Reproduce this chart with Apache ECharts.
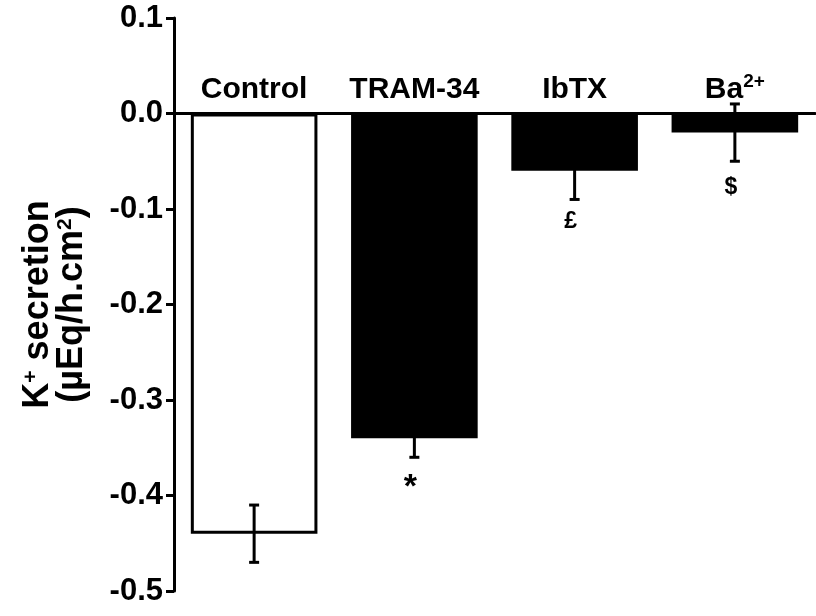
<!DOCTYPE html>
<html>
<head>
<meta charset="utf-8">
<script src="https://cdn.jsdelivr.net/npm/echarts@6/dist/echarts.min.js"></script>
<style>
  html, body { margin: 0; padding: 0; background: #fff; }
  #chart { width: 816px; height: 616px; }
</style>
</head>
<body>
<div id="chart"></div>
<script>
// data
const categories = ['Control', 'TRAM-34', 'IbTX', 'Ba2+'];
const means = [-0.44, -0.34, -0.06, -0.02];
const errors = [0.03, 0.02, 0.03, 0.03];
const marks = ['', '*', '£', '$'];
const fills = ['#ffffff', '#000000', '#000000', '#000000'];
const yMin = -0.5, yMax = 0.1, yStep = 0.1;

const font = '"Liberation Sans", Arial, sans-serif';

const chart = echarts.init(document.getElementById('chart'));

const errData = means.map((m, i) => [i, m - errors[i], m + errors[i]]);

// category names sit just above the zero line
function catLabel(c) {
  return c === 'Ba2+' ? '{b|Ba}{s|2+}' : '{b|' + c + '}';
}
const catRich = {
  b: { fontFamily: font, fontWeight: 'bold', fontSize: 30, fill: '#000', color: '#000', lineHeight: 34 },
  s: { fontFamily: font, fontWeight: 'bold', fontSize: 19, fill: '#000', color: '#000', lineHeight: 19, padding: [0, 0, 15, 0] }
};

chart.setOption({
  animation: false,
  grid: { left: 174, right: 1, top: 18, bottom: 25, outerBoundsMode: 'none' },
  xAxis: {
    type: 'category',
    data: categories,
    axisLine: { onZero: true, lineStyle: { color: '#000', width: 3 } },
    axisTick: { show: false },
    axisLabel: { show: false }
  },
  yAxis: {
    type: 'value',
    min: yMin,
    max: yMax,
    interval: yStep,
    splitLine: { show: false },
    axisLine: { show: true, lineStyle: { color: '#000', width: 3 } },
    axisTick: { show: true, length: 8, lineStyle: { color: '#000', width: 3 } },
    axisLabel: {
      margin: 11,
      color: '#000',
      fontFamily: font,
      fontWeight: 'bold',
      fontSize: 31,
      formatter: v => v.toFixed(1)
    },
    name: '{n|K}{s|+}{n| secretion}\n{n|(µEq/h.cm}{s|2}{n|)}',
    nameLocation: 'middle',
    nameRotate: 90,
    nameGap: 85,
    nameTextStyle: {
      rich: {
        n: { fontFamily: font, fontWeight: 'bold', fontSize: 36, color: '#000', lineHeight: 34 },
        s: { fontFamily: font, fontWeight: 'bold', fontSize: 21, color: '#000', lineHeight: 21, padding: [0, 0, 13, 0] }
      }
    }
  },
  series: [
    {
      type: 'bar',
      barCategoryGap: '21%',
      data: means.map((m, i) => ({
        value: m,
        itemStyle: { color: fills[i], borderColor: '#000', borderWidth: 3 }
      }))
    },
    {
      type: 'custom',
      data: errData,
      z: 5,
      renderItem: (params, api) => {
        const i = api.value(0);
        const lo = api.coord([i, api.value(1)]);
        const hi = api.coord([i, api.value(2)]);
        const cap = 5;
        const st = { stroke: '#000', lineWidth: 3 };
        const kids = [
          { type: 'line', shape: { x1: lo[0], y1: lo[1], x2: hi[0], y2: hi[1] }, style: st },
          { type: 'line', shape: { x1: lo[0] - cap, y1: lo[1], x2: lo[0] + cap, y2: lo[1] }, style: st },
          { type: 'line', shape: { x1: hi[0] - cap, y1: hi[1], x2: hi[0] + cap, y2: hi[1] }, style: st }
        ];
        const m = marks[params.dataIndex];
        if (m) {
          const star = m === '*';
          kids.push({
            type: 'text',
            style: {
              x: lo[0] - 4, y: lo[1] + (star ? 30 : (m === '$' ? 26 : 22)),
              text: m, fill: '#000',
              font: 'bold ' + (star ? 34 : 23) + 'px ' + font,
              textAlign: 'center', textVerticalAlign: 'middle'
            }
          });
        }
        return { type: 'group', children: kids };
      }
    },
    {
      type: 'custom',
      data: categories.map((c, i) => [i, 0]),
      z: 6,
      renderItem: (params, api) => {
        const p = api.coord([api.value(0), api.value(1)]);
        return {
          type: 'text',
          style: {
            x: p[0], y: p[1] - 7,
            text: catLabel(categories[params.dataIndex]),
            rich: catRich,
            fill: '#000',
            textAlign: 'center', textVerticalAlign: 'bottom'
          }
        };
      }
    }
  ]
});
</script>
</body>
</html>
